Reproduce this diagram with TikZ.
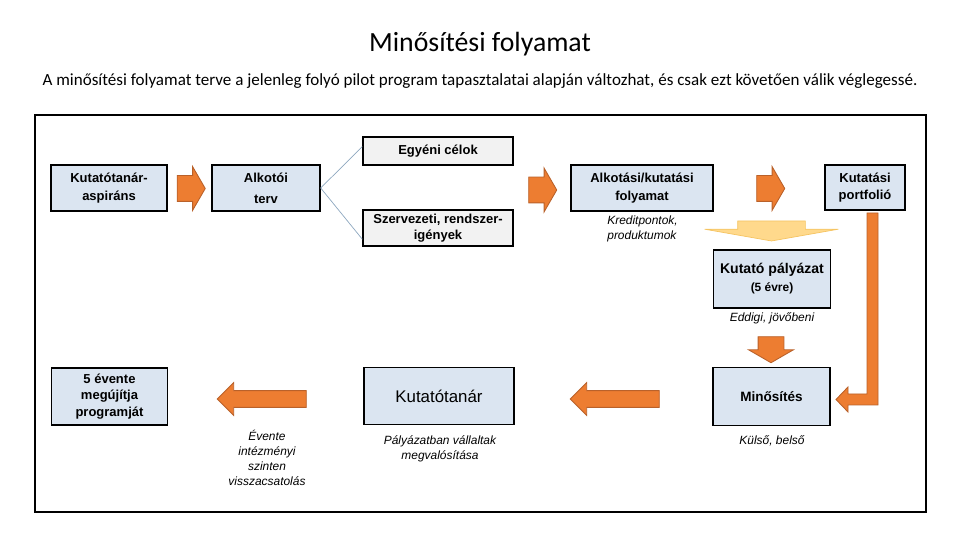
\documentclass[tikz,border=0pt]{standalone}
\usepackage{fontspec}
\setmainfont{Liberation Sans}
\newfontfamily\calibri{Carlito}
\usepackage{tikz}
\usetikzlibrary{shapes.arrows,calc}
\definecolor{boxblue}{HTML}{DBE5F1}
\definecolor{boxgrey}{HTML}{F2F2F2}
\definecolor{orfill}{HTML}{ED7D31}
\definecolor{orline}{HTML}{B9612A}
\definecolor{yelfill}{HTML}{FFD98C}
\definecolor{yelline}{HTML}{F5C462}
\definecolor{thinline}{HTML}{8DA7BF}

\begin{document}
\begin{tikzpicture}[x=0.02cm, y=-0.02cm,
  box/.style={draw, line width=0.8pt, align=center, inner sep=1pt, font=\fontsize{7.4}{10}\selectfont\bfseries},
  bluebox/.style={box, fill=boxblue},
  greybox/.style={box, fill=boxgrey},
  note/.style={align=center, inner sep=0pt, font=\fontsize{6.8}{8.2}\selectfont\itshape},
  blockarr/.style={single arrow, draw=orline, fill=orfill, line width=0.5pt},
  rarr/.style={blockarr, inner xsep=0pt, inner ysep=0.25cm, minimum height=0.56cm, single arrow head extend=0.18cm, single arrow tip angle=120},
  larr/.style={blockarr, shape border rotate=180, inner xsep=0pt, inner ysep=0.16cm, minimum height=1.78cm, single arrow head extend=0.16cm, single arrow tip angle=90},
  darr/.style={blockarr, shape border rotate=270, inner ysep=0pt, inner xsep=0.25cm, minimum height=0.52cm, single arrow head extend=0.19cm, single arrow tip angle=120},
  fork/.style={draw=thinline, line width=0.4pt}
]
  \useasboundingbox (0,0) rectangle (960,540);

  % title and frame
  \node[font=\calibri\fontsize{15.8}{18}\selectfont] (title) at (480,44) {Minősítési folyamat};
  \node[font=\calibri\fontsize{9.7}{12}\selectfont] (subtitle) at (480,81) {A minősítési folyamat terve a jelenleg folyó pilot program tapasztalatai alapján változhat, és csak ezt követően válik véglegessé.};
  \draw[line width=1.3pt] (35,115) rectangle (926,512);

  % upper row
  \node[bluebox, minimum width=2.32cm, minimum height=0.92cm] (aspirans) at (109,188) {Kutatótanár-\\aspiráns};
  \node[rarr] (a1) at (187.5,188.5) {};
  \node[bluebox, minimum width=2.16cm, minimum height=0.92cm, font=\fontsize{7.4}{12}\selectfont\bfseries] (terv) at (266,188) {Alkotói\\terv};
  \node[greybox, minimum width=3cm, minimum height=0.56cm] (egyeni) at (438,151) {Egyéni célok};
  \node[greybox, minimum width=3cm, minimum height=0.72cm, font=\fontsize{7.4}{9}\selectfont\bfseries] (szerv) at (438,228) {Szervezeti, rendszer-\\igények};
  \draw[fork] (terv.east) -- ($(egyeni.north west)!0.35!(egyeni.south west)$);
  \draw[fork] (terv.east) -- ($(szerv.north west)!0.8!(szerv.south west)$);
  \node[rarr] (a2) at (539,190) {};
  \node[bluebox, minimum width=2.84cm, minimum height=0.92cm] (folyamat) at (642,188) {Alkotási/kutatási\\folyamat};
  \node[note, align=left, anchor=west] (kredit) at (607,229) {Kreditpontok,\\produktumok};
  \node[rarr] (a3) at (767,188.5) {};
  \node[bluebox, minimum width=1.6cm, minimum height=0.9cm] (portf) at (865,187.5) {Kutatási\\portfolió};

  % right column
  \node[single arrow, shape border rotate=270, draw=yelline, fill=yelfill, line width=0.4pt, inner ysep=0pt, inner xsep=0.67cm,
        minimum height=0.4cm, single arrow head extend=0.66cm, single arrow tip angle=160] (yel) at (771.5,228) {};
  \node[bluebox, minimum width=2.34cm, minimum height=1.16cm, font=\fontsize{8}{10.2}\selectfont\bfseries] (palyazat) at (772,279) {Kutató pályázat\\{\fontsize{6.8}{10.2}\selectfont (5 évre)}};
  \node[note] (eddigi) at (772,318) {Eddigi, jövőbeni};
  \node[darr] (a4) at (771,346) {};
  \node[bluebox, minimum width=2.34cm, minimum height=1.16cm, font=\fontsize{7.7}{10}\selectfont\bfseries] (minos) at (771.5,396.5) {Minősítés};
  \node[note] (kulso) at (772,441) {Külső, belső};
  % L-shaped arrow from the portfolio down to Minősítés
  \draw[draw=orline, fill=orfill, line width=0.5pt] (867,213) -- (878,213) -- (878,405) -- (848,405) -- (848,412)
    -- (836,399.5) -- (848,387) -- (848,394) -- (867,394) -- cycle;

  % lower row
  \node[larr] (a5) at (619,399) {};
  \node[bluebox, minimum width=3cm, minimum height=1.14cm, font=\fontsize{9.6}{11}\selectfont] (tanar) at (439,396) {Kutatótanár};
  \node[note] (vallalt) at (440,449) {Pályázatban vállaltak\\megvalósítása};
  \node[larr] (a6) at (266,399) {};
  \node[note, font=\fontsize{6.8}{8.4}\selectfont\itshape] (evente) at (267,458) {Évente\\intézményi\\szinten\\visszacsatolás};
  \node[bluebox, minimum width=2.32cm, minimum height=1.14cm, font=\fontsize{7.4}{9.6}\selectfont\bfseries] (megujit) at (109.5,396.5) {5 évente\\megújítja\\programját};
\end{tikzpicture}
\end{document}
